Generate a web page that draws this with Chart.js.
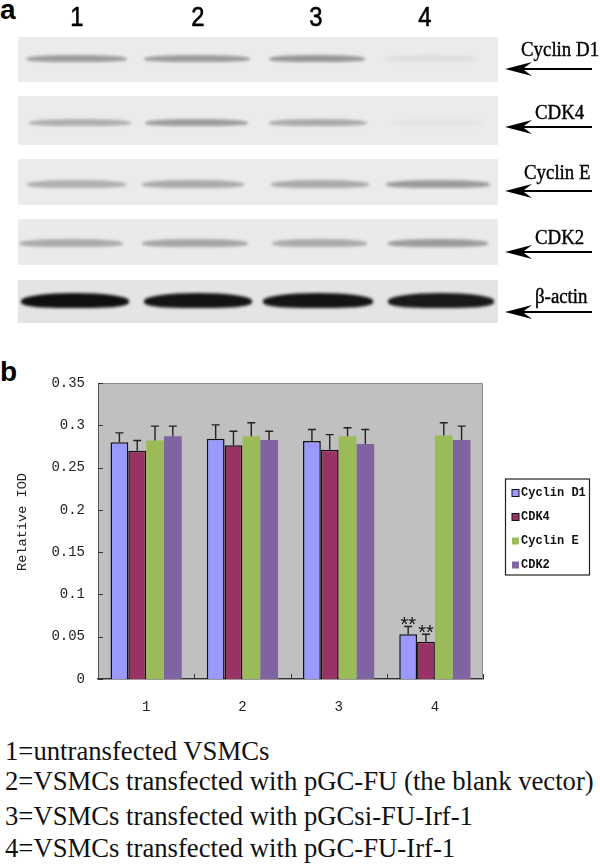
<!DOCTYPE html>
<html>
<head>
  <meta charset="UTF-8">
  <script src="https://cdn.jsdelivr.net/npm/chart.js"></script>
  <title>Relative IOD</title>
  <style>
    html, body { margin: 0; padding: 0; background: #fff; }
    #page { position: relative; width: 600px; height: 865px; overflow: hidden; }
    #page div { position: absolute; }
    #bar-chart { position: absolute; left: 0; top: 360px; }
    .blot { overflow: hidden; }
    .band { border-radius: 50% 50% 35% 35%; filter: blur(1.6px); }
    .lane { font: 28px "Liberation Sans"; -webkit-text-stroke: 0.6px #000; width: 30px; text-align: center; transform: scaleX(0.85); }
    .protein { font: 20.5px "Liberation Serif"; -webkit-text-stroke: 0.4px #000; white-space: nowrap; transform: scaleX(0.92); transform-origin: left top; }
    .panel { font: bold 28px "Liberation Sans"; }
    .note { font: 26.7px "Liberation Serif"; white-space: nowrap; left: 5px; color: #111; }
  </style>
</head>
<body>
<div id="page">
  <div class="panel" style="left:0;top:-6px">a</div>
  <div class="panel" style="left:0;top:356px">b</div>
  <canvas id="bar-chart" width="600" height="370"></canvas>
</div>

<script>
    const categories = ['1', '2', '3', '4'];
    const yTicks = [0, 0.05, 0.1, 0.15, 0.2, 0.25, 0.3, 0.35];
    const yTickLabels = ['0', '0.05', '0.1', '0.15', '0.2', '0.25', '0.3', '0.35'];

    const cyclinD1 = [0.280, 0.284, 0.2815, 0.053];
    const cdk4 = [0.270, 0.2765, 0.271, 0.044];
    const cyclinE = [0.282, 0.287, 0.287, 0.288];
    const cdk2 = [0.287, 0.2825, 0.278, 0.2825];

    // top of each error bar
    const cyclinD1Err = [0.291, 0.3005, 0.295, 0.062];
    const cdk4Err = [0.282, 0.293, 0.289, 0.053];
    const cyclinEErr = [0.299, 0.303, 0.297, 0.303];
    const cdk2Err = [0.299, 0.293, 0.295, 0.299];

    const cyclinD1Marks = ['', '', '', '**'];
    const cdk4Marks = ['', '', '', '**'];

    const laneNames = ['1', '2', '3', '4'];
    const proteins = ['Cyclin D1', 'CDK4', 'Cyclin E', 'CDK2', 'β-actin'];
    const notes = [
        '1=untransfected VSMCs',
        '2=VSMCs transfected with pGC-FU (the blank vector)',
        '3=VSMCs transfected with pGCsi-FU-Irf-1',
        '4=VSMCs transfected with pGC-FU-Irf-1'
    ];

    // panel a, blot strips: top, bottom, band y, band height, label x, label y, arrow y, strip colour
    const strips = [
        [37, 82, 58, 7, 521, 38, 69, '#ebebeb'],
        [96, 145, 122, 7, 535, 101, 127, '#ebebeb'],
        [159, 205, 184, 8, 524, 161, 191, '#ebebeb'],
        [219, 265, 243, 8, 535, 226, 252, '#eaeaea'],
        [280, 323, 300, 15, 535, 285, 312, '#e4e4e4']
    ];
    // [left, right, grey] per lane
    const bands = [
        [[26, 127, 155], [144, 250, 155], [269, 365, 150], [385, 477, 222]],
        [[29, 131, 175], [145, 248, 155], [269, 367, 170], [392, 485, 228]],
        [[27, 126, 175], [142, 244, 170], [271, 369, 170], [386, 490, 155]],
        [[19, 123, 170], [142, 248, 165], [272, 367, 170], [388, 488, 155]],
        [[21, 129, 15], [144, 252, 20], [263, 373, 20], [388, 494, 25]]
    ];
    const laneX = [77, 198, 316, 425];

    const page = document.getElementById('page');

    function addDiv(cls, css, text) {
        const d = document.createElement('div');
        d.className = cls;
        d.style.cssText = css;
        if (text) d.textContent = text;
        page.appendChild(d);
        return d;
    }

    laneNames.forEach((n, i) => addDiv('lane', `left:${laneX[i] - 15}px;top:1px`, n));

    strips.forEach((s, i) => {
        const strip = addDiv('blot', `left:18px;top:${s[0]}px;width:480px;height:${s[1] - s[0]}px;background:${s[7]}`);
        bands[i].forEach(b => {
            const d = document.createElement('div');
            d.className = 'band';
            d.style.cssText = `left:${b[0] - 18}px;top:${s[2] - s[0] - s[3] / 2}px;width:${b[1] - b[0]}px;height:${s[3]}px;background:rgb(${b[2]},${b[2]},${b[2]})`;
            strip.appendChild(d);
        });
        addDiv('protein', `left:${s[4]}px;top:${s[5]}px`, proteins[i]);
        const arrow = document.createElementNS('http://www.w3.org/2000/svg', 'svg');
        arrow.setAttribute('width', 100);
        arrow.setAttribute('height', 16);
        arrow.style.cssText = `position:absolute;left:502px;top:${s[6] - 8}px`;
        arrow.innerHTML = '<path d="M3 8 L30 1 L22 7 L90 7 L90 9 L22 9 L30 15 Z" fill="#000"/>';
        page.appendChild(arrow);
    });

    [752, 782, 817, 849].forEach((y, i) => addDiv('note', `top:${y - 16}px`, notes[i]));

    const monoFont = '"Liberation Mono"';

    // error bars, stars, inner tick marks, plot frame
    const figureBits = {
        id: 'figureBits',
        beforeDatasetsDraw(chart) {
            const { ctx, chartArea: a } = chart;
            ctx.save();
            ctx.strokeStyle = '#8c8c8c';
            ctx.lineWidth = 1;
            ctx.beginPath();
            ctx.moveTo(a.left, a.top + 0.5);
            ctx.lineTo(a.right - 0.5, a.top + 0.5);
            ctx.lineTo(a.right - 0.5, a.bottom);
            ctx.stroke();
            ctx.strokeStyle = '#333';
            ctx.beginPath();
            const sy = chart.scales.y, sx = chart.scales.x;
            yTicks.forEach(v => {
                const y = Math.round(sy.getPixelForValue(v)) + 0.5;
                ctx.moveTo(a.left, y);
                ctx.lineTo(a.left + 5, y);
            });
            const step = sx.getPixelForValue(1) - sx.getPixelForValue(0);
            categories.forEach((c, i) => {
                const x = Math.round(sx.getPixelForValue(i) + step / 2) + 0.5;
                ctx.moveTo(x, a.bottom);
                ctx.lineTo(x, a.bottom - 5);
            });
            ctx.stroke();
            ctx.restore();
        },
        afterDatasetsDraw(chart) {
            const { ctx } = chart;
            const sy = chart.scales.y;
            ctx.save();
            chart.data.datasets.forEach((ds, di) => {
                chart.getDatasetMeta(di).data.forEach((bar, i) => {
                    const top = sy.getPixelForValue(ds.errTop[i]);
                    const base = sy.getPixelForValue(ds.data[i]);
                    ctx.strokeStyle = '#222';
                    ctx.lineWidth = 1.4;
                    ctx.beginPath();
                    ctx.moveTo(bar.x, base);
                    ctx.lineTo(bar.x, top);
                    ctx.moveTo(bar.x - 4, top);
                    ctx.lineTo(bar.x + 4, top);
                    ctx.stroke();
                    if (ds.marks && ds.marks[i]) {
                        ctx.fillStyle = '#111';
                        ctx.font = '20px "Liberation Sans"';
                        ctx.textAlign = 'center';
                        ctx.textBaseline = 'middle';
                        ctx.fillText(ds.marks[i], bar.x, top - 1);
                    }
                });
            });
            ctx.restore();
        },
        afterDraw(chart) {
            const { ctx } = chart;
            ctx.save();
            // y title, sits above the plot centre in the reference
            ctx.translate(22, 162);
            ctx.rotate(-Math.PI / 2);
            ctx.fillStyle = '#222';
            ctx.font = '13.6px ' + monoFont;
            ctx.textAlign = 'center';
            ctx.textBaseline = 'middle';
            ctx.fillText('Relative IOD', 0, 0);
            ctx.restore();

            // legend box
            const top = 119;
            ctx.save();
            ctx.fillStyle = '#fff';
            ctx.strokeStyle = '#222';
            ctx.lineWidth = 1.2;
            ctx.fillRect(505.5, top, 84, 96);
            ctx.strokeRect(505.5, top, 84, 96);
            ctx.font = 'bold 12px ' + monoFont;
            ctx.textBaseline = 'middle';
            chart.data.datasets.forEach((ds, i) => {
                const y = top + 14 + i * 24;
                ctx.fillStyle = ds.backgroundColor;
                ctx.fillRect(512, y - 3.5, 7, 7);
                if (ds.borderWidth) {
                    ctx.strokeStyle = '#111';
                    ctx.lineWidth = 1;
                    ctx.strokeRect(512, y - 3.5, 7, 7);
                }
                ctx.fillStyle = '#111';
                ctx.fillText(ds.label, 521, y);
            });
            ctx.restore();
        }
    };

    new Chart(document.getElementById('bar-chart'), {
        type: 'bar',
        data: {
            labels: categories,
            datasets: [
                { label: 'Cyclin D1', data: cyclinD1, errTop: cyclinD1Err, marks: cyclinD1Marks, backgroundColor: '#9999ff', borderColor: '#111', borderWidth: 1.5 },
                { label: 'CDK4', data: cdk4, errTop: cdk4Err, marks: cdk4Marks, backgroundColor: '#993366', borderColor: '#111', borderWidth: 1.5 },
                { label: 'Cyclin E', data: cyclinE, errTop: cyclinEErr, backgroundColor: '#9bbb59', borderWidth: 0 },
                { label: 'CDK2', data: cdk2, errTop: cdk2Err, backgroundColor: '#8064a2', borderWidth: 0 }
            ]
        },
        options: {
            responsive: false,
            animation: false,
            events: [],
            categoryPercentage: 0.74,
            barPercentage: 1,
            layout: { padding: { left: 0, right: 117, top: 23, bottom: 0 } },
            plugins: {
                legend: { display: false },
                tooltip: { enabled: false },
                title: { display: false }
            },
            scales: {
                x: {
                    afterFit(scale) { scale.height = 51; },
                    grid: { display: false },
                    border: { display: true, color: '#333', width: 1.5 },
                    ticks: { color: '#222', font: { family: 'Liberation Mono', size: 14 }, padding: 12, maxRotation: 0 }
                },
                y: {
                    min: 0,
                    max: 0.35,
                    afterFit(scale) { scale.width = 98; },
                    afterBuildTicks(scale) { scale.ticks = yTicks.map(v => ({ value: v })); },
                    grid: { display: false },
                    border: { display: true, color: '#555', width: 1 },
                    ticks: {
                        color: '#222',
                        font: { family: 'Liberation Mono', size: 14 },
                        padding: 5,
                        callback: (v) => yTickLabels[yTicks.indexOf(v)]
                    }
                }
            }
        },
        plugins: [figureBits, {
            id: 'plotBg',
            beforeDraw(chart) {
                const { ctx, chartArea: a } = chart;
                ctx.save();
                ctx.fillStyle = '#c0c0c0';
                ctx.fillRect(a.left, a.top, a.width, a.height);
                ctx.restore();
            }
        }]
    });
</script>
</body>
</html>
